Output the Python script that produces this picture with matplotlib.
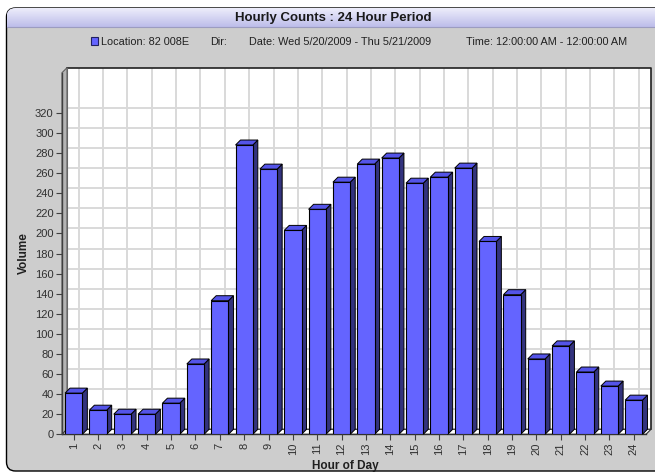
import numpy as np
import matplotlib
matplotlib.use("Agg")
import matplotlib.pyplot as plt
from matplotlib.patches import FancyBboxPatch, Polygon, Rectangle
from matplotlib.transforms import offset_copy

hours = list(range(1, 25))
volume = [41, 24, 20, 20, 31, 70, 133, 288, 264, 203, 224, 251,
          269, 275, 250, 256, 265, 192, 139, 75, 88, 62, 48, 34]
y_ticks = list(range(0, 321, 20))

title = "Hourly Counts : 24 Hour Period"
legend_parts = ["Location: 82 008E", "Dir:", "Date: Wed 5/20/2009 - Thu 5/21/2009",
                "Time: 12:00:00 AM - 12:00:00 AM"]
legend_x = [101, 210, 249, 466]

W, H = 655, 474
FONT = ["Liberation Sans Narrow", "Liberation Sans", "DejaVu Sans"]
plt.rcParams["font.family"] = FONT

front = "#6464FF"
side = "#33337E"
top = "#5454E8"
depth = 5  # pixels of 3d offset

fig = plt.figure(figsize=(W / 100, H / 100), dpi=100)
fig.patch.set_facecolor("white")

# background panel in pixel coords
bg = fig.add_axes([0, 0, 1, 1])
bg.set_xlim(0, W)
bg.set_ylim(H, 0)
bg.axis("off")
panel = FancyBboxPatch((6.5, 8), 700, 463, boxstyle="round,pad=0,rounding_size=9",
                       facecolor="#CDCDCD", edgecolor="black", lw=1.0)
bg.add_patch(panel)
grad = np.linspace(0, 1, 50).reshape(-1, 1)
cmap = matplotlib.colors.LinearSegmentedColormap.from_list("tb", ["#EDEDFB", "#BDBDEA"])
im = bg.imshow(grad, cmap=cmap, extent=(6.5, 706, 27, 8), aspect="auto", zorder=2)
im.set_clip_path(panel)
bg.plot([6.5, W], [27, 27], color="#9C9CC0", lw=0.8, zorder=3)
bg.text(333, 17.5, title, ha="center", va="center", fontsize=9.5, fontweight="bold",
        color="#1A1A1A", zorder=4)
bg.add_patch(Rectangle((90.5, 37), 7.5, 8, facecolor=front, edgecolor="#202060", lw=0.8, zorder=3))
for s, x in zip(legend_parts, legend_x):
    bg.text(x, 41.5, s, ha="left", va="center", fontsize=7.8, color="#202020", zorder=4)

# main axes = front frame of the 3d box
left_px, right_px, bot_px, top_px = 62, 646, 434.3, 72.7
ax = fig.add_axes([left_px / W, (H - bot_px) / H, (right_px - left_px) / W, (bot_px - top_px) / H])
ax.set_xlim(0.52, 24.5)
ax.set_ylim(0, 360)
ax.patch.set_visible(False)
for sp in ["top", "right", "bottom"]:
    ax.spines[sp].set_visible(False)
ax.spines["left"].set_color("#404040")
ax.spines["left"].set_linewidth(1.0)

back = offset_copy(ax.transData, fig, x=depth, y=depth, units="dots")
back_ax = offset_copy(ax.transAxes, fig, x=depth, y=depth, units="dots")

# back wall
ax.add_patch(Rectangle((0, 0), 1, 1, transform=back_ax, facecolor="white",
                       edgecolor="none", zorder=0, clip_on=False))
for v in y_ticks:
    ax.plot([0.52, 24.5], [v, v], color="#D9D9D9", lw=1.4, transform=back, zorder=0.5,
            clip_on=False)
for h in hours:
    ax.plot([h, h], [0, 360], color="#D9D9D9", lw=1.4, transform=back, zorder=0.5,
            clip_on=False)
ax.plot([0, 1, 1], [1, 1, 0], color="#202020", lw=1.2, transform=back_ax, zorder=0.6,
        clip_on=False)
ax.plot([0, 0], [0, 1], color="#707070", lw=0.8, transform=back_ax, zorder=0.6, clip_on=False)

# left wall and floor strips
fig.canvas.draw()
inv = ax.transData.inverted()
x0, y0 = inv.transform(ax.transData.transform((1, 0)))
x1, y1 = inv.transform(ax.transData.transform((1, 0)) + depth)
ddx, ddy = x1 - x0, y1 - y0
ax.add_patch(Polygon([(0.52, 0), (0.52, 360), (0.52 + ddx, 360 + ddy), (0.52 + ddx, ddy)],
                     facecolor="#B4B4B4", edgecolor="#606060", lw=0.8, zorder=0.7,
                     clip_on=False))
ax.add_patch(Polygon([(0.52, 0), (24.5, 0), (24.5 + ddx, ddy), (0.52 + ddx, ddy)],
                     facecolor="white", edgecolor="#303030", lw=0.8, zorder=0.7,
                     clip_on=False))
ax.plot([0.52, 24.5], [0, 0], color="#303030", lw=1.0, zorder=0.8, clip_on=False)

# bars
bw = 0.71
ax.bar(hours, volume, width=bw, color=front, edgecolor="black", lw=0.8, zorder=3)
for h, v in zip(hours, volume):
    xr = h + bw / 2
    xl = h - bw / 2
    ax.add_patch(Polygon([(xr, 0), (xr + ddx, ddy), (xr + ddx, v + ddy), (xr, v)],
                         facecolor=side, edgecolor="black", lw=0.7, zorder=2.9, clip_on=False))
    ax.add_patch(Polygon([(xl, v), (xr, v), (xr + ddx, v + ddy), (xl + ddx, v + ddy)],
                         facecolor=top, edgecolor="black", lw=0.7, zorder=2.9, clip_on=False))

ax.set_yticks(y_ticks)
ax.set_xticks(hours)
ax.set_xticklabels([str(h) for h in hours], rotation=90)
ax.tick_params(axis="both", colors="#404040", labelcolor="#303030", labelsize=8,
               length=4, width=0.8, direction="out", pad=2)
ax.set_xlabel("Hour of Day", fontsize=8.5, fontweight="bold", color="#202020")
ax.set_ylabel("Volume", fontsize=8.5, fontweight="bold", color="#202020")
ax.xaxis.set_label_coords(0.485, -0.072)
ax.yaxis.set_label_coords(-0.055, 0.5)

fig.savefig("out.png", dpi=100, facecolor=fig.get_facecolor())
